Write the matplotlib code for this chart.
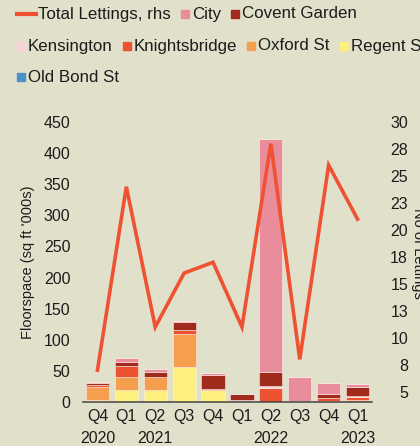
import matplotlib
matplotlib.use("Agg")
import matplotlib.pyplot as plt
from matplotlib.patches import Rectangle
from matplotlib.lines import Line2D
import numpy as np

plt.rcParams["font.family"] = ["Liberation Sans", "DejaVu Sans"]

BG = "#e1e0cb"
INK = "#1c1c1c"

quarters = ["Q4", "Q1", "Q2", "Q3", "Q4", "Q1", "Q2", "Q3", "Q4", "Q1"]
years = ["2020", "", "2021", "", "", "", "2022", "", "", "2023"]

# floorspace, sq ft '000s (stacked bottom -> top)
regent = [4, 19, 19, 56, 19, 0, 0, 0, 0, 0]
oxford = [20, 21, 21, 53, 0, 0, 0, 0, 1, 4]
knightsbridge = [4, 18, 0, 7, 2.5, 1, 23, 0, 6, 4]
kensington = [0, 0, 0, 0, 0, 2, 3, 0, 0, 2]
covent_garden = [3, 6.5, 9, 12, 22.5, 10, 22, 2, 6.5, 14]
city = [1, 7, 4, 2.5, 2, 0, 374, 38, 17, 4.5]
old_bond = [0, 0, 0, 0, 0, 0, 0, 0, 0, 0]

total_lettings = [7, 24, 11, 16, 17, 11, 28, 8, 26, 21]

right_ticks = [5, 7.5, 10, 12.5, 15, 17.5, 20, 22.5, 25, 27.5, 30]
right_labels = ["5", "8", "10", "13", "15", "18", "20", "23", "25", "28", "30"]

series = [
    ("Regent St", regent, "#fdf07f"),
    ("Oxford St", oxford, "#f59f4e"),
    ("Knightsbridge", knightsbridge, "#ec5230"),
    ("Kensington", kensington, "#f9d3dc"),
    ("Covent Garden", covent_garden, "#a02b1d"),
    ("City", city, "#e98d9c"),
    ("Old Bond St", old_bond, "#4a93c9"),
]
colors = {name: c for name, _, c in series}
LINE_COLOR = "#ef5233"

W, H = 420, 446
fig = plt.figure(figsize=(W / 100, H / 100), dpi=100)
fig.patch.set_facecolor(BG)

ax = fig.add_axes([83 / W, 44 / H, 289 / W, 280 / H])
ax.set_facecolor(BG)

x = np.arange(len(quarters))
bottom = np.zeros(len(quarters))
for name, vals, c in series:
    vals = np.array(vals, dtype=float)
    ax.bar(x, vals, 0.8, bottom=bottom, color=c, edgecolor=(1, 0.95, 0.92, 0.6),
           linewidth=0.6, zorder=2)
    bottom += vals

ax.set_xlim(-0.5, len(quarters) - 0.5)
ax.set_ylim(0, 450)
ax.set_yticks(range(0, 451, 50))
ax.set_xticks(x)
ax.set_xticklabels([q + "\n" + y for q, y in zip(quarters, years)], linespacing=1.55)
for s in ["top", "right", "left"]:
    ax.spines[s].set_visible(False)
ax.spines["bottom"].set_color("#444444")
ax.spines["bottom"].set_linewidth(1.1)
ax.spines["bottom"].set_zorder(5)
ax.tick_params(axis="both", length=0, labelsize=11.5, colors=INK)
ax.tick_params(axis="y", pad=9)
ax.tick_params(axis="x", pad=5)
ax.set_ylabel("Floorspace (sq ft '000s)", fontsize=10.5, color=INK, labelpad=6)

ax2 = ax.twinx()
ax2.set_ylim(4.05, 30)
ax2.set_yticks(right_ticks)
ax2.set_yticklabels(right_labels)
for s in ["top", "right", "left", "bottom"]:
    ax2.spines[s].set_visible(False)
ax2.tick_params(axis="y", length=0, labelsize=11.5, colors=INK, pad=26)
for t in ax2.get_yticklabels():
    t.set_horizontalalignment("right")
ax2.plot(x, total_lettings, color=LINE_COLOR, lw=2.6, solid_joinstyle="miter", zorder=4)
fig.text(418 / W, 1 - 253 / H, "No of Lettings", rotation=270, fontsize=10.5,
         color=INK, ha="center", va="center")

# legend, laid out in flowing rows like the original
rows = [
    [("Total Lettings, rhs", "line"), ("City", "box"), ("Covent Garden", "box")],
    [("Kensington", "box"), ("Knightsbridge", "box"), ("Oxford St", "box"), ("Regent St", "box")],
    [("Old Bond St", "box")],
]
row_y = [14, 46, 77]
renderer = fig.canvas.get_renderer()
for row, yc in zip(rows, row_y):
    xp = 17
    for label, kind in row:
        if kind == "line":
            fig.add_artist(Line2D([xp / W, (xp + 19) / W], [1 - yc / H] * 2,
                                  color=LINE_COLOR, lw=3, transform=fig.transFigure))
            xp += 21
        else:
            fig.add_artist(Rectangle((xp / W, 1 - (yc + 4) / H), 8 / W, 8 / H,
                                     color=colors[label], transform=fig.transFigure))
            xp += 11
        t = fig.text(xp / W, 1 - yc / H, label, fontsize=12.2, color=INK,
                     ha="left", va="center")
        bb = t.get_window_extent(renderer)
        xp = bb.x1 + 10

fig.savefig("out.png", dpi=100, facecolor=BG)
